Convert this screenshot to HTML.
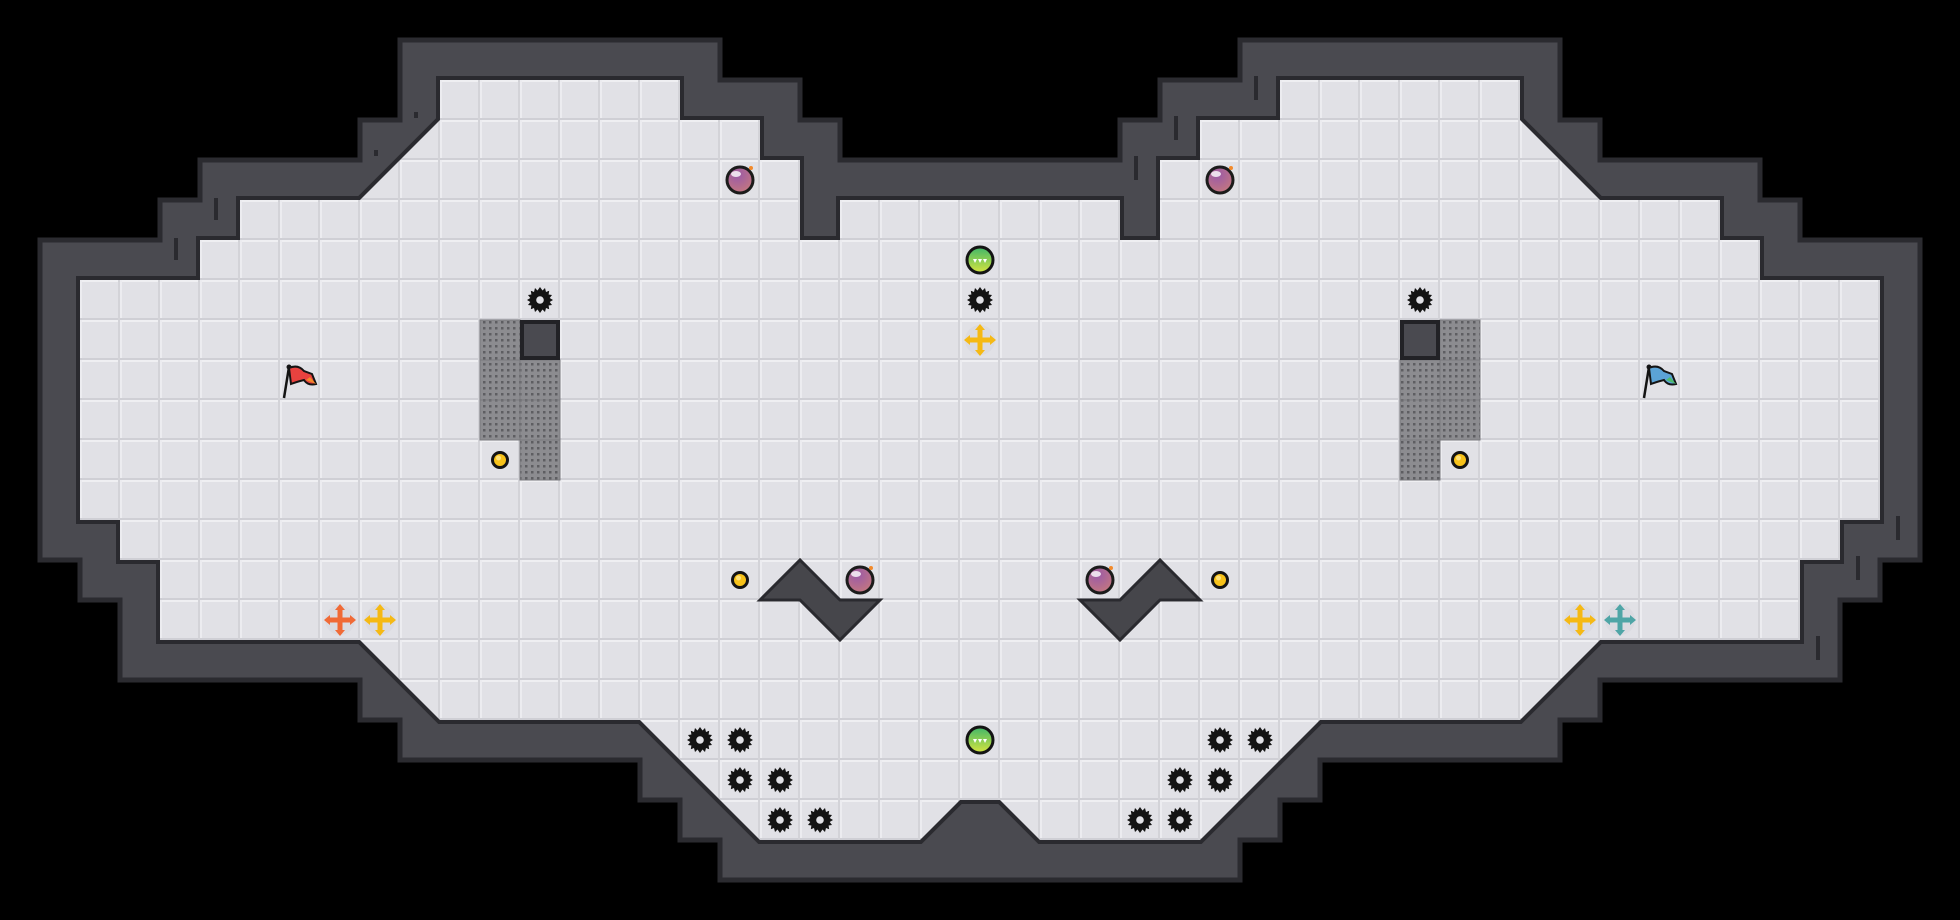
<!DOCTYPE html>
<html><head><meta charset="utf-8"><style>html,body{margin:0;padding:0;background:#000;}svg{display:block}</style></head>
<body>
<svg width="1960" height="920" viewBox="0 0 1960 920" xmlns="http://www.w3.org/2000/svg">
<defs>
<pattern id="tile" width="40" height="40" patternUnits="userSpaceOnUse">
<rect width="40" height="40" fill="#e1e1e6"/>
<rect x="0" y="0" width="40" height="2" fill="#efeff2"/>
<rect x="0" y="0" width="2" height="40" fill="#ececf0"/>
<rect x="0" y="38" width="40" height="2" fill="#cfcfd5"/>
<rect x="38" y="0" width="2" height="40" fill="#d3d3d8"/>
</pattern>
<pattern id="dots" width="6" height="6" patternUnits="userSpaceOnUse" x="2" y="2">
<rect width="6" height="6" fill="#8c8c90"/>
<rect x="1" y="1" width="2.5" height="2.5" fill="#5e5e62"/>
</pattern>
<radialGradient id="gBomb" cx="0.4" cy="0.3" r="0.8"><stop offset="0" stop-color="#9a5aa8"/><stop offset="1" stop-color="#c97a7a"/></radialGradient>
<linearGradient id="gGreen" x1="0" y1="0" x2="0" y2="1"><stop offset="0" stop-color="#3fb76a"/><stop offset="1" stop-color="#d7e43e"/></linearGradient>
<g id="saw">
<polygon fill="#141414" points="0,-13 2.5,-9.5 5,-12 6,-8 9.2,-9.2 8.6,-5.5 12,-5 9.7,-2 13,0 9.7,2 12,5 8.6,5.5 9.2,9.2 6,8 5,12 2.5,9.5 0,13 -2.5,9.5 -5,12 -6,8 -9.2,9.2 -8.6,5.5 -12,5 -9.7,2 -13,0 -9.7,-2 -12,-5 -8.6,-5.5 -9.2,-9.2 -6,-8 -5,-12 -2.5,-9.5"/>
<circle r="3.8" fill="#e1e1e6"/>
</g>
<g id="bomb">
<circle r="13" fill="url(#gBomb)" stroke="#1b1b1b" stroke-width="3"/>
<ellipse cx="-4" cy="-6" rx="5" ry="3" fill="#fff" opacity="0.8"/>
<circle cx="11" cy="-12" r="2" fill="#f28a2a"/>
</g>
<g id="green">
<circle r="13" fill="url(#gGreen)" stroke="#141414" stroke-width="3"/>
<polygon points="-7,-1 -3,-1 -5,3" fill="#fff"/><polygon points="-2,-1 2,-1 0,3" fill="#fff"/><polygon points="3,-1 7,-1 5,3" fill="#fff"/>
</g>
<g id="cross">
<circle r="15" fill="#d9d9de" opacity="0.7"/>
<rect x="-2.5" y="-12" width="5" height="24"/>
<rect x="-12" y="-2.5" width="24" height="5"/>
<polygon points="0,-16 -5,-10 5,-10"/><polygon points="0,16 -5,10 5,10"/>
<polygon points="-16,0 -10,-5 -10,5"/><polygon points="16,0 10,-5 10,5"/>
</g>
<g id="coin"><circle r="7.5" fill="#f7c21a" stroke="#141414" stroke-width="3"/><circle cx="-1.5" cy="-2" r="2.5" fill="#ffe27a"/></g>
</defs>

<rect width="1960" height="920" fill="#000"/>

<!-- outer wall -->
<polygon points="40,240 160,240 160,200 200,200 200,160 360,160 360,120 400,120 400,40 720,40 720,80 800,80 800,120 840,120 840,160 1120,160 1120,120 1160,120 1160,80 1240,80 1240,40 1560,40 1560,120 1600,120 1600,160 1760,160 1760,200 1800,200 1800,240 1920,240 1920,560 1880,560 1880,600 1840,600 1840,680 1600,680 1600,720 1560,720 1560,760 1320,760 1320,800 1280,800 1280,840 1240,840 1240,880 720,880 720,840 680,840 680,800 640,800 640,760 400,760 400,720 360,720 360,680 120,680 120,600 80,600 80,560 40,560"
 fill="#4a4a50" stroke="#2b2b30" stroke-width="5"/>

<polygon points="80,280 200,280 200,240 240,240 240,200 360,200 440,120 440,80 680,80 680,120 760,120 760,160 800,160 800,240 840,240 840,200 1120,200 1120,240 1160,240 1160,160 1200,160 1200,120 1280,120 1280,80 1520,80 1520,120 1600,200 1720,200 1720,240 1760,240 1760,280 1880,280 1880,520 1840,520 1840,560 1800,560 1800,640 1600,640 1520,720 1320,720 1200,840 1040,840 1000,800 960,800 920,840 760,840 640,720 440,720 360,640 160,640 160,560 120,560 120,520 80,520"
 fill="url(#tile)" stroke="#2a2a2f" stroke-width="8" stroke-linejoin="miter"/>
<polygon points="80,280 200,280 200,240 240,240 240,200 360,200 440,120 440,80 680,80 680,120 760,120 760,160 800,160 800,240 840,240 840,200 1120,200 1120,240 1160,240 1160,160 1200,160 1200,120 1280,120 1280,80 1520,80 1520,120 1600,200 1720,200 1720,240 1760,240 1760,280 1880,280 1880,520 1840,520 1840,560 1800,560 1800,640 1600,640 1520,720 1320,720 1200,840 1040,840 1000,800 960,800 920,840 760,840 640,720 440,720 360,640 160,640 160,560 120,560 120,520 80,520"
 fill="url(#tile)"/>

<!-- wall ticks -->
<g fill="#2a2a2f">
<rect x="174" y="238" width="4" height="22"/><rect x="214" y="198" width="4" height="22"/>
<rect x="374" y="150" width="4" height="6"/><rect x="414" y="112" width="4" height="6"/>
<rect x="1254" y="76" width="4" height="24"/><rect x="1174" y="116" width="4" height="24"/><rect x="1134" y="156" width="4" height="24"/>
<rect x="1896" y="516" width="4" height="24"/><rect x="1856" y="556" width="4" height="24"/><rect x="1816" y="636" width="4" height="24"/>
</g>

<!-- blocks left -->
<rect x="480" y="320" width="40" height="120" fill="url(#dots)" stroke="#7a7a7e" stroke-width="1"/>
<rect x="520" y="360" width="40" height="120" fill="url(#dots)" stroke="#7a7a7e" stroke-width="1"/>
<line x1="480" y1="360" x2="560" y2="360" stroke="#7a7a7e"/><line x1="480" y1="400" x2="560" y2="400" stroke="#7a7a7e"/><line x1="520" y1="440" x2="560" y2="440" stroke="#7a7a7e"/>
<rect x="522" y="322" width="36" height="36" fill="#4a4a50" stroke="#222226" stroke-width="4"/>
<!-- blocks right -->
<rect x="1440" y="320" width="40" height="120" fill="url(#dots)" stroke="#7a7a7e" stroke-width="1"/>
<rect x="1400" y="360" width="40" height="120" fill="url(#dots)" stroke="#7a7a7e" stroke-width="1"/>
<line x1="1400" y1="360" x2="1480" y2="360" stroke="#7a7a7e"/><line x1="1400" y1="400" x2="1480" y2="400" stroke="#7a7a7e"/><line x1="1400" y1="440" x2="1440" y2="440" stroke="#7a7a7e"/>
<rect x="1402" y="322" width="36" height="36" fill="#4a4a50" stroke="#222226" stroke-width="4"/>

<!-- zigzags -->
<polygon points="760,600 800,560 840,600 880,600 840,640 800,600" fill="#46464b" stroke="#2a2a2f" stroke-width="3" stroke-linejoin="miter"/>
<polygon points="1200,600 1160,560 1120,600 1080,600 1120,640 1160,600" fill="#46464b" stroke="#2a2a2f" stroke-width="3" stroke-linejoin="miter"/>

<!-- saws -->
<use href="#saw" x="540" y="300"/><use href="#saw" x="980" y="300"/><use href="#saw" x="1420" y="300"/>
<use href="#saw" x="700" y="740"/><use href="#saw" x="740" y="740"/><use href="#saw" x="740" y="780"/><use href="#saw" x="780" y="780"/><use href="#saw" x="780" y="820"/><use href="#saw" x="820" y="820"/>
<use href="#saw" x="1260" y="740"/><use href="#saw" x="1220" y="740"/><use href="#saw" x="1220" y="780"/><use href="#saw" x="1180" y="780"/><use href="#saw" x="1180" y="820"/><use href="#saw" x="1140" y="820"/>

<!-- bombs -->
<use href="#bomb" x="740" y="180"/><use href="#bomb" x="1220" y="180"/><use href="#bomb" x="860" y="580"/><use href="#bomb" x="1100" y="580"/>
<!-- green -->
<use href="#green" x="980" y="260"/><use href="#green" x="980" y="740"/>
<!-- crosses -->
<use href="#cross" x="980" y="340" fill="#f5b914"/>
<use href="#cross" x="340" y="620" fill="#f06a36"/>
<use href="#cross" x="380" y="620" fill="#f5b914"/>
<use href="#cross" x="1580" y="620" fill="#f5b914"/>
<use href="#cross" x="1620" y="620" fill="#4fa5a6"/>
<!-- coins -->
<use href="#coin" x="500" y="460"/><use href="#coin" x="1460" y="460"/><use href="#coin" x="740" y="580"/><use href="#coin" x="1220" y="580"/>

<!-- flags -->
<g transform="translate(300,380)">
<line x1="-16" y1="18" x2="-11" y2="-13" stroke="#141414" stroke-width="2.5"/>
<circle cx="-11" cy="-13" r="2.5" fill="#141414"/>
<path d="M-11,-12 Q-2,-16 4,-9 L12,-6 L16,4 Q8,6 4,0 Q-4,2 -9,4 Z" fill="#e8423f" stroke="#141414" stroke-width="2"/>
<path d="M6,0 L16,4 L10,-3 Z" fill="#f28a2a"/>
</g>
<g transform="translate(1660,380)">
<line x1="-16" y1="18" x2="-11" y2="-13" stroke="#141414" stroke-width="2.5"/>
<circle cx="-11" cy="-13" r="2.5" fill="#141414"/>
<path d="M-11,-12 Q-2,-16 4,-9 L12,-6 L16,4 Q8,6 4,0 Q-4,2 -9,4 Z" fill="#5ba3d6" stroke="#141414" stroke-width="2"/>
<path d="M6,0 L16,4 L10,-3 Z" fill="#4dbb6a"/>
</g>
</svg>
</body></html>
